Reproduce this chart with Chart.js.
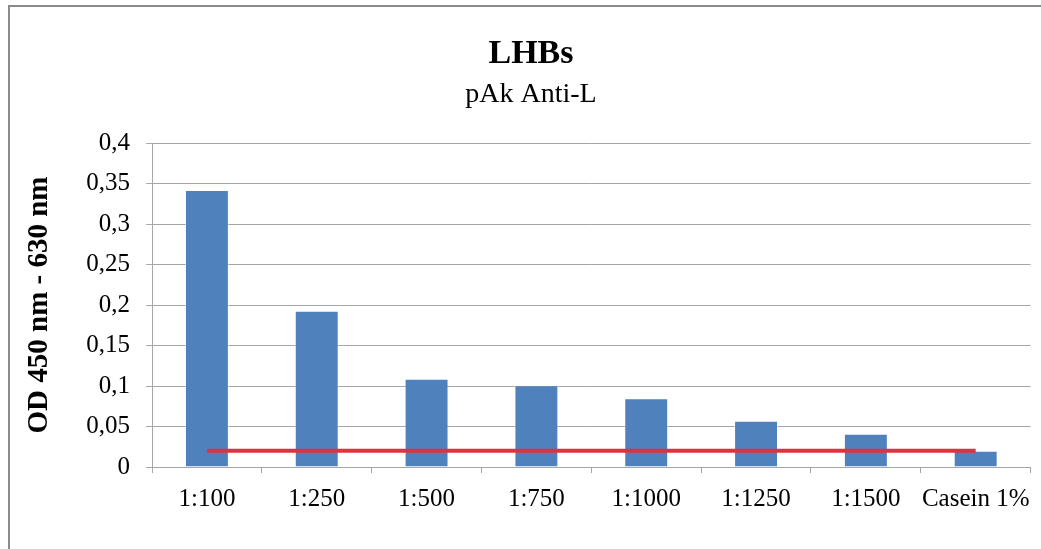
<!DOCTYPE html>
<html>
<head>
<meta charset="utf-8">
<script src="https://cdn.jsdelivr.net/npm/chart.js@4/dist/chart.umd.min.js"></script>
<style>
  html, body { margin: 0; padding: 0; background: #ffffff; }
  #wrap { width: 1041px; height: 549px; position: relative; }
</style>
</head>
<body>
<div id="wrap"><canvas id="c" width="1041" height="549"></canvas></div>
<script>
// Dilution series measured against the LHBs antigen
const categories = ['1:100', '1:250', '1:500', '1:750', '1:1000', '1:1250', '1:1500', 'Casein 1%'];
const odValues = [0.342, 0.193, 0.109, 0.101, 0.085, 0.057, 0.041, 0.020];
// Casein blank level drawn as a reference line across all dilutions
const blankLevel = [0.02, 0.02, 0.02, 0.02, 0.02, 0.02, 0.02, 0.02];
const yTicks = { min: 0, max: 0.4, step: 0.05 };

const serif = 'Liberation Serif, Times New Roman, serif';
const gridGrey = '#a6a6a6';

// Frame around the whole chart (top and left edges)
const framePlugin = {
  id: 'frame',
  beforeDraw(chart) {
    const ctx = chart.ctx;
    ctx.save();
    ctx.strokeStyle = '#8a8a8a';
    ctx.lineWidth = 2;
    ctx.beginPath();
    ctx.moveTo(9, chart.height);
    ctx.lineTo(9, 6);
    ctx.lineTo(chart.width, 6);
    ctx.stroke();
    ctx.restore();
  }
};

new Chart(document.getElementById('c'), {
  data: {
    labels: categories,
    datasets: [
      {
        type: 'line',
        label: 'Casein 1%',
        data: blankLevel,
        borderColor: '#e0323c',
        borderWidth: 4,
        pointRadius: 0,
        fill: false,
        order: 0
      },
      {
        type: 'bar',
        label: 'OD',
        data: odValues,
        backgroundColor: '#4f81bd',
        borderColor: 'rgba(255,255,255,0.45)',
        borderWidth: 1,
        barPercentage: 0.4,
        categoryPercentage: 1,
        order: 1
      }
    ]
  },
  options: {
    responsive: false,
    animation: false,
    layout: { padding: { left: 29, right: 8, top: 0, bottom: 0 } },
    plugins: {
      legend: { display: false },
      tooltip: { enabled: false },
      title: {
        display: true,
        text: 'LHBs',
        color: '#000',
        font: { family: serif, size: 34, weight: 'bold' },
        padding: { top: 34, bottom: 0 }
      },
      subtitle: {
        display: true,
        text: 'pAk Anti-L',
        color: '#000',
        font: { family: serif, size: 28 },
        padding: { top: 3, bottom: 31.6 }
      }
    },
    scales: {
      x: {
        offset: true,
        grid: {
          offset: true,
          drawOnChartArea: false,
          drawTicks: true,
          tickLength: 6,
          color: gridGrey
        },
        border: { color: gridGrey, width: 1 },
        ticks: {
          color: '#000',
          font: { family: serif, size: 25 },
          padding: 11,
          maxRotation: 0,
          autoSkip: false
        },
        afterFit(scale) { scale.height = 82; }
      },
      y: {
        min: yTicks.min,
        max: yTicks.max,
        grid: { color: gridGrey, tickLength: 6 },
        border: { color: gridGrey, width: 1 },
        ticks: {
          stepSize: yTicks.step,
          color: '#000',
          font: { family: serif, size: 25 },
          padding: 16,
          callback: (v) => Number(v.toFixed(2)).toString().replace('.', ',')
        },
        title: {
          display: true,
          text: 'OD 450 nm - 630 nm',
          color: '#000',
          font: { family: serif, size: 29, weight: 'bold' },
          padding: { top: -7, bottom: 0 }
        },
        afterFit(scale) { scale.width = 123; }
      }
    }
  },
  plugins: [framePlugin]
});
</script>
</body>
</html>
